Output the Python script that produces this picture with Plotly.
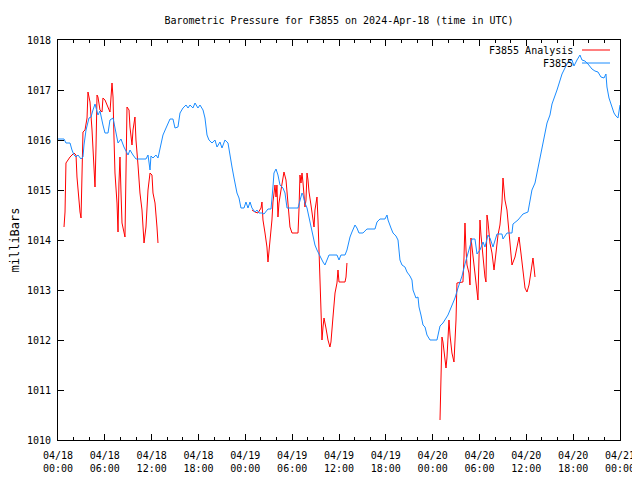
import pandas as pd
import plotly.graph_objects as go

START = pd.Timestamp("2024-04-18 00:00")

# F3855 observed (hours after 04/18 00:00 UTC, mbar)
obs_hours = [0, 0.77, 1.02, 1.54, 1.79, 2.05, 2.31, 2.56, 2.95, 3.20, 3.33, 3.59, 3.97, 4.23, 4.48, 4.74,
             5.12, 5.38, 5.76, 6.02, 6.41, 6.66, 7.05, 7.30, 7.69, 8.07, 8.45, 8.97, 9.22, 9.61, 9.99,
             11.27, 11.53, 11.79, 11.91, 12.17, 12.55, 12.81, 13.19, 13.45, 13.84, 14.35, 14.73, 14.99,
             15.37, 15.63, 16.01, 16.40, 16.66, 16.91, 17.29, 17.55, 17.93, 18.19, 18.58, 18.83, 19.09,
             19.34, 19.73, 20.11, 20.37, 20.75, 21.01, 21.39, 21.78, 22.03, 22.29, 22.55, 22.80, 22.93,
             23.19, 23.44, 23.83, 24.08, 24.34, 24.60, 24.85, 25.24, 25.49, 25.75, 26.13, 26.39, 26.90,
             27.29, 27.54, 27.67, 27.93, 28.18, 28.44, 28.82, 29.08, 29.34, 30.75, 31.00, 31.26, 31.39,
             31.64, 31.90, 32.16, 32.41, 32.67, 32.92, 33.18, 33.44, 33.69, 33.95, 34.20, 34.46, 34.72,
             35.74, 36.00, 36.25, 36.77, 37.02, 37.41, 37.66, 38.05, 38.30, 38.56, 39.07, 39.58, 40.61,
             40.87, 41.25, 41.89, 42.15, 42.28, 42.66, 42.92, 43.30, 43.56, 43.81, 44.07, 44.45, 44.71,
             45.09, 45.35, 45.48, 45.73, 45.86, 46.12, 46.25, 46.50, 46.76, 47.02, 47.27, 47.66, 48.55,
             48.94, 49.32, 49.96, 50.47, 50.86, 51.24, 51.76, 52.14, 52.52, 53.04, 53.42, 53.68, 54.06,
             54.45, 54.70, 55.09, 55.34, 55.73, 56.24, 56.88, 57.01, 57.52, 58.16, 58.29, 58.93, 59.57,
             60.21, 60.47, 60.72, 61.11, 61.36, 61.75, 62.00, 62.39, 62.65, 63.03, 63.29, 63.93, 64.31,
             64.57, 64.95, 65.34, 65.85, 66.10, 66.49, 66.87, 67.13, 67.51, 67.90, 68.41, 68.79, 69.18,
             69.56, 69.95, 70.20, 70.33, 70.59, 70.97, 71.23, 71.48, 71.74, 72.00]
obs_mbar = [1016.02, 1016.02, 1015.94, 1015.94, 1015.80, 1015.70, 1015.66, 1015.70, 1015.62, 1015.66,
            1015.90, 1016.20, 1016.44, 1016.46, 1016.60, 1016.72, 1016.50, 1016.58, 1016.30, 1016.14,
            1016.14, 1016.40, 1016.44, 1016.24, 1015.94, 1016.02, 1015.86, 1015.70, 1015.80, 1015.70,
            1015.62, 1015.62, 1015.70, 1015.40, 1015.68, 1015.64, 1015.70, 1015.64, 1015.90, 1016.10,
            1016.24, 1016.42, 1016.42, 1016.24, 1016.26, 1016.54, 1016.64, 1016.70, 1016.64, 1016.70,
            1016.64, 1016.74, 1016.64, 1016.70, 1016.60, 1016.44, 1016.10, 1016.00, 1015.94, 1016.00,
            1015.86, 1015.96, 1015.84, 1016.00, 1015.94, 1015.74, 1015.46, 1015.24, 1015.04, 1014.94,
            1014.84, 1014.64, 1014.64, 1014.76, 1014.64, 1014.76, 1014.64, 1014.56, 1014.60, 1014.54,
            1014.54, 1014.52, 1014.62, 1014.62, 1015.06, 1015.34, 1015.42, 1015.30, 1015.10, 1015.04,
            1014.94, 1014.64, 1014.64, 1014.80, 1014.94, 1014.90, 1014.74, 1014.64, 1014.46, 1014.26,
            1014.10, 1013.90, 1013.80, 1013.70, 1013.64, 1013.56, 1013.50, 1013.60, 1013.70, 1013.70,
            1013.60, 1013.70, 1013.70, 1013.80, 1014.06, 1014.16, 1014.30, 1014.24, 1014.14, 1014.14,
            1014.22, 1014.22, 1014.36, 1014.42, 1014.42, 1014.50, 1014.40, 1014.24, 1014.14, 1014.08,
            1014.00, 1013.60, 1013.50, 1013.46, 1013.36, 1013.28, 1013.20, 1013.00, 1012.90, 1012.84,
            1012.86, 1012.66, 1012.50, 1012.30, 1012.26, 1012.10, 1012.00, 1012.00, 1012.28, 1012.34,
            1012.50, 1012.68, 1012.84, 1013.04, 1013.28, 1013.52, 1013.72, 1014.02, 1014.02, 1013.72,
            1013.80, 1013.96, 1013.86, 1014.10, 1014.04, 1013.86, 1014.12, 1014.12, 1014.02, 1014.14,
            1014.14, 1014.32, 1014.40, 1014.52, 1014.56, 1014.80, 1015.00, 1015.14, 1015.34, 1015.64,
            1015.84, 1016.14, 1016.34, 1016.50, 1016.72, 1017.00, 1017.20, 1017.32, 1017.44, 1017.56,
            1017.60, 1017.48, 1017.60, 1017.70, 1017.60, 1017.58, 1017.52, 1017.42, 1017.38, 1017.36,
            1017.26, 1017.24, 1017.32, 1017.06, 1016.84, 1016.64, 1016.54, 1016.48, 1016.44, 1016.70]

# F3855 Analysis (None = gap between analysis runs)
ana_hours = [0.77, 0.90, 1.02, 1.54, 2.05, 2.31, 2.43, 2.56, 2.82, 2.95, 3.07, 3.20, 3.46, 3.72, 3.84,
             4.10, 4.36, 4.48, 4.61, 4.74, 4.87, 5.00, 5.12, 5.38, 5.64, 5.76, 6.02, 6.41, 6.66, 6.92,
             7.05, 7.17, 7.30, 7.56, 7.69, 7.81, 7.94, 8.07, 8.20, 8.58, 8.71, 8.84, 9.10, 9.22, 9.48,
             9.61, 9.86, 9.99, 10.25, 10.50, 10.76, 11.02, 11.27, 11.40, 11.53, 11.79, 12.04, 12.17,
             12.43, 12.68, 12.81,
             18.0,
             24.85, 25.24, 25.62, 26.01, 26.13, 26.26, 26.52, 26.77, 26.90, 27.03, 27.29, 27.41, 27.54,
             27.80, 27.93, 28.05, 28.18, 28.31, 28.57, 28.82, 28.95, 29.21, 29.34, 29.46, 29.72, 29.98,
             30.75, 30.87, 31.00, 31.13, 31.26, 31.39, 31.51, 31.64, 31.77, 31.90, 32.03, 32.16, 32.41,
             32.67, 32.80, 32.92, 33.18, 33.31, 33.44, 33.56, 33.69, 33.82, 33.95, 34.08, 34.33, 34.59,
             34.84, 34.97, 35.23, 35.49, 35.74, 35.87, 36.00, 36.77, 36.90, 37.02,
             43.0,
             48.94, 49.07, 49.19, 49.32, 49.45, 49.71, 49.83, 49.96, 50.09, 50.22, 50.47, 50.73, 50.86,
             50.99, 51.11, 51.88, 52.01, 52.14, 52.27, 52.40, 52.65, 52.78, 52.91, 53.04, 53.29, 53.55,
             53.80, 53.93, 54.06, 54.19, 54.45, 54.70, 54.83, 54.96, 55.09, 55.34, 55.60, 55.86, 56.11,
             56.37, 56.62, 56.88, 57.01, 57.13, 57.26, 57.52, 57.78, 58.03, 58.16, 58.55, 58.80, 59.06,
             59.31, 59.57, 59.83, 60.08, 60.34, 60.59, 60.85, 60.98, 61.11]
ana_mbar = [1014.26, 1014.56, 1015.54, 1015.66, 1015.74, 1015.70, 1015.26, 1014.96, 1014.56, 1014.44,
            1015.40, 1016.16, 1016.20, 1016.44, 1016.96, 1016.76, 1016.20, 1015.86, 1015.54, 1015.06,
            1015.86, 1016.90, 1016.86, 1016.60, 1016.56, 1016.84, 1016.80, 1016.66, 1016.56, 1017.14,
            1016.86, 1016.06, 1015.34, 1014.74, 1014.16, 1015.14, 1015.66, 1014.96, 1014.34, 1014.06,
            1015.40, 1016.66, 1016.60, 1016.26, 1015.90, 1016.20, 1016.46, 1016.00, 1015.50, 1014.94,
            1014.60, 1013.94, 1014.26, 1014.74, 1015.00, 1015.34, 1015.30, 1014.94, 1014.74, 1014.26,
            1013.94,
            None,
            1014.60, 1014.56, 1014.54, 1014.64, 1014.76, 1014.40, 1014.14, 1013.86, 1013.56, 1013.76,
            1014.14, 1014.40, 1014.76, 1015.10, 1014.86, 1015.10, 1014.46, 1014.74, 1015.00, 1015.26,
            1015.36, 1015.20, 1014.96, 1014.60, 1014.26, 1014.14, 1014.14, 1014.60, 1015.30, 1015.14,
            1015.34, 1015.14, 1014.84, 1014.66, 1014.80, 1015.34, 1015.20, 1014.96, 1014.70, 1014.40,
            1014.26, 1014.60, 1014.86, 1014.40, 1013.66, 1013.20, 1012.74, 1012.00, 1012.26, 1012.44,
            1012.24, 1012.00, 1011.86, 1011.96, 1012.46, 1012.94, 1013.14, 1013.40, 1013.16, 1013.16,
            1013.26, 1013.54,
            None,
            1010.40, 1011.24, 1012.06, 1011.96, 1011.74, 1011.44, 1011.64, 1012.14, 1012.40, 1012.10,
            1011.74, 1011.56, 1011.96, 1012.40, 1013.14, 1013.16, 1013.64, 1014.34, 1013.80, 1013.50,
            1013.34, 1013.10, 1014.04, 1013.86, 1013.40, 1013.04, 1012.80, 1013.60, 1014.40, 1014.10,
            1013.60, 1013.26, 1013.16, 1014.50, 1014.36, 1013.94, 1013.74, 1013.40, 1013.74, 1014.10,
            1014.30, 1014.74, 1015.24, 1014.96, 1014.80, 1014.60, 1014.14, 1013.74, 1013.50, 1013.66,
            1013.86, 1014.06, 1013.74, 1013.40, 1013.04, 1012.96, 1013.10, 1013.36, 1013.64, 1013.46,
            1013.26]

RED = "#ff0000"
BLUE = "#1a8cff"
FONT = "DejaVu Sans Mono"

# page body has an 8px margin, so the figure is sized/positioned to compensate
W, H = 632, 472

def to_time(hours):
    return [START + pd.Timedelta(hours=h) for h in hours]

fig = go.Figure()
fig.add_trace(go.Scatter(x=to_time(ana_hours), y=ana_mbar, mode="lines", name="F3855 Analysis",
                         line=dict(color=RED, width=1), connectgaps=False))
fig.add_trace(go.Scatter(x=to_time(obs_hours), y=obs_mbar, mode="lines", name="F3855",
                         line=dict(color=BLUE, width=1)))

# legend (gnuplot style: text then line sample)
legend_items = [("F3855 Analysis", RED), ("F3855", BLUE)]
for i, (txt, col) in enumerate(legend_items):
    ypos = 1 - (10 + 13 * i) / 400
    fig.add_annotation(xref="paper", yref="paper", x=(575 - 58) / 562, y=ypos, text=txt,
                       showarrow=False, xanchor="right", yanchor="middle",
                       font=dict(family=FONT, size=10, color="black"))
    fig.add_shape(type="line", xref="paper", yref="paper", x0=(582 - 58) / 562, x1=(610 - 58) / 562,
                  y0=ypos, y1=ypos, line=dict(color=col, width=1))

fig.update_layout(
    width=W, height=H,
    margin=dict(l=50, r=20, t=32, b=40, autoexpand=False),
    paper_bgcolor="white", plot_bgcolor="white",
    showlegend=False,
    font=dict(family=FONT, size=10, color="black"),
    title=dict(text="Barometric Pressure for F3855 on 2024-Apr-18 (time in UTC)",
               x=331 / W, xanchor="center", y=1 - 12 / H, yanchor="middle",
               font=dict(family=FONT, size=10), automargin=False),
    xaxis=dict(range=[START, START + pd.Timedelta(hours=72)], tickformat="%m/%d<br>%H:%M",
               tick0=START, dtick=6 * 3600000, ticks="inside", ticklen=6, tickcolor="black",
               showline=True, linecolor="black", linewidth=1, mirror="ticks", showgrid=False,
               zeroline=False, automargin=False, ticklabelstandoff=6, ticklabeloverflow="allow",
               minor=dict(ticks="inside", dtick=2 * 3600000, ticklen=3, tickcolor="black", showgrid=False)),
    yaxis=dict(range=[1010, 1018], dtick=1, ticks="inside", ticklen=6, tickcolor="black",
               showline=True, linecolor="black", linewidth=1, mirror="ticks", showgrid=False,
               zeroline=False, automargin=False, ticklabelstandoff=4,
               title=dict(text="milliBars", standoff=12)),
)

fig.write_html("out.html")
